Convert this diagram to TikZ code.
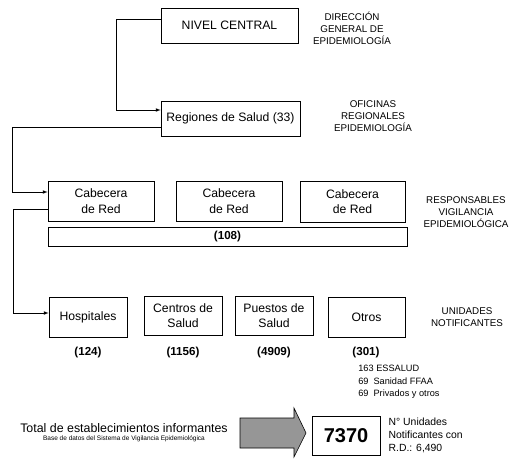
\documentclass[tikz,border=0pt]{standalone}
\usepackage{fontspec}
\setmainfont{Liberation Sans}
\definecolor{grisflecha}{RGB}{150,150,150}
\begin{document}
\begin{tikzpicture}[x=1pt,y=-1pt,>=latex,line width=0.7pt,
    caja/.style={draw,inner sep=0pt,align=center,font=\fontsize{12.2}{15.5}\selectfont},
    rotulo/.style={align=center,font=\fontsize{9.8}{12}\selectfont},
    cifra/.style={font=\bfseries\fontsize{11.6}{13}\selectfont}]
\useasboundingbox (0,0) rectangle (513,458);

% niveles
\node[caja,minimum width=137,minimum height=35] (nc) at (229.5,25.5) {NIVEL CENTRAL};
\node[caja,minimum width=139,minimum height=35] (reg) at (230.5,118.5) {Regiones de Salud (33)};
\node[caja,minimum width=106,minimum height=40] (cab1) at (101,201) {Cabecera\\de Red};
\node[caja,minimum width=106,minimum height=40] (cab2) at (229,201) {Cabecera\\de Red};
\node[caja,minimum width=105,minimum height=41] (cab3) at (352.5,201.5) {Cabecera\\de Red};
\node[caja,cifra,minimum width=359,minimum height=19] (red) at (227.5,236.5) {(108)};
\node[caja,minimum width=78,minimum height=40] (hosp) at (88,317) {Hospitales};
\node[caja,minimum width=78,minimum height=39] (cen) at (183,315.5) {Centros de\\Salud};
\node[caja,minimum width=78,minimum height=39] (pue) at (274,315.5) {Puestos de\\Salud};
\node[caja,minimum width=77,minimum height=40] (otr) at (366.5,317) {Otros};

% rotulos
\node[rotulo] (dir) at (352,28) {DIRECCIÓN\\GENERAL DE\\EPIDEMIOLOGÍA};
\node[rotulo] (ofi) at (373,116) {OFICINAS\\REGIONALES\\EPIDEMIOLOGÍA};
\node[rotulo] (resp) at (466,212) {RESPONSABLES\\VIGILANCIA\\EPIDEMIOLÓGICA};
\node[rotulo] (uni) at (467,317.5) {UNIDADES\\NOTIFICANTES};

% cifras
\node[cifra] (n124) at (88,352) {(124)};
\node[cifra] (n1156) at (183,352) {(1156)};
\node[cifra] (n4909) at (274,352) {(4909)};
\node[cifra] (n301) at (366,352) {(301)};
\node[anchor=north west,align=left,inner sep=0pt,font=\fontsize{9.2}{12.5}\selectfont] (otros) at (358,365)
    {163 ESSALUD\\69\hspace{5pt}Sanidad FFAA\\69\hspace{5pt}Privados y otros};

% total
\node[font=\fontsize{12.4}{14}\selectfont] (tot) at (124,428) {Total de establecimientos informantes};
\node[font=\fontsize{6.5}{8}\selectfont,inner sep=0pt] (base) at (124,439) {Base de datos del Sistema de Vigilancia Epidemiológica};
\draw[fill=grisflecha,line width=0.6pt] (240,418)--(294,418)--(294,408)--(306,433)--(294,457)--(294,448)--(240,448)--cycle;
\node[caja,minimum width=68,minimum height=39,font=\bfseries\fontsize{20}{22}\selectfont] (total) at (346,435.5) {7370};
\node[anchor=west,align=left,font=\fontsize{10.4}{13}\selectfont] (rd) at (385,435) {N° Unidades\\Notificantes con\\R.D.: 6,490};

% conectores
\draw[->] ([yshift=6.5]nc.west) -- ++(-44,0) |- ([yshift=8.5]reg.west);
\draw[->] ([yshift=-8.5]reg.west) -- ++(-148,0) |- ([yshift=9]cab1.west);
\draw[->] ([yshift=-8]cab1.west) -- ++(-34,0) |- ([yshift=4]hosp.west);
\end{tikzpicture}
\end{document}
